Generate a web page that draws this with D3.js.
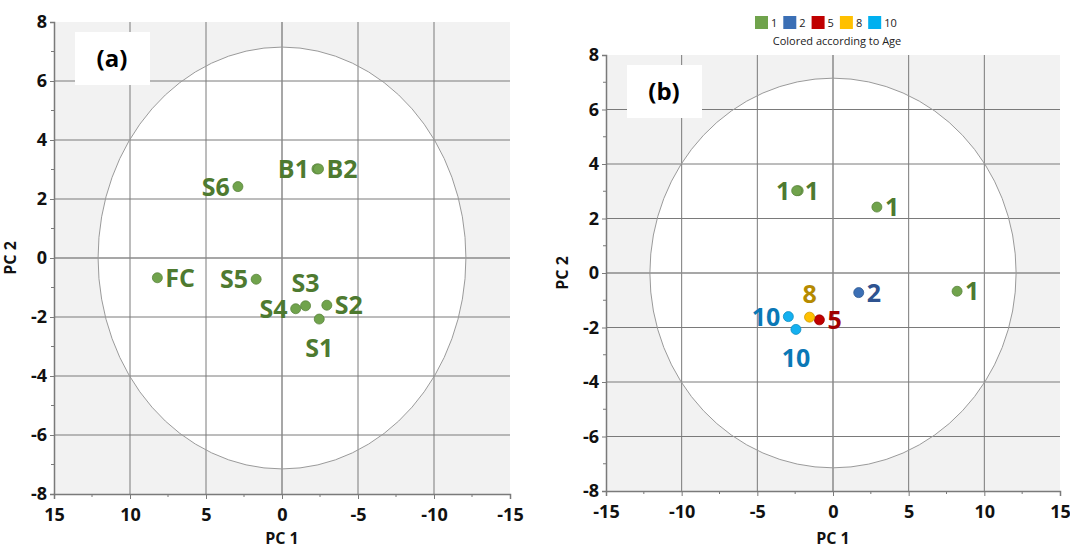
<!DOCTYPE html>
<html>
<head>
<meta charset="utf-8">
<script src="https://cdn.jsdelivr.net/npm/d3@7"></script>
<style>
  body { margin: 0; background: #fff; }
  svg { display: block; font-family: 'Open Sans', sans-serif; }
</style>
</head>
<body>
<div id="chart"></div>
<script>
// Scores of the samples on the first two components
const samples = ['FC', 'S5', 'S6', 'B1', 'B2', 'S4', 'S3', 'S2', 'S1'];
const pc1 = [8.2, 1.7, 2.9, -2.3, -2.4, -0.9, -1.55, -2.95, -2.45];
const pc2 = [-0.67, -0.72, 2.42, 3.02, 3.02, -1.72, -1.62, -1.6, -2.07];
const age = [1, 2, 1, 1, 1, 5, 8, 10, 10];

const ageLevels = [1, 2, 5, 8, 10];
const xTicks = [-15, -10, -5, 0, 5, 10, 15];
const yTicks = [-8, -6, -4, -2, 0, 2, 4, 6, 8];
const ellipseRadius = [12.1, 7.15]; // Hotelling T2 ellipse, PC1 / PC2 units

const width = 1070, height = 548;

const dotColor = {1: '#70a34c', 2: '#3b6fb5', 5: '#c00000', 8: '#ffc000', 10: '#14b0f0'};
const textColor = {1: '#4e7a30', 2: '#2f5390', 5: '#a00000', 8: '#b58a00', 10: '#0a78b6'};

// where the label sits relative to its dot
const sideA = {FC: 'right', S5: 'left', S6: 'left', B1: 'left', B2: 'right', S4: 'left', S3: 'top', S2: 'right', S1: 'bottom'};
const sideB = {FC: 'right', S5: 'right', S6: 'right', B1: 'left', B2: 'right', S4: 'right', S3: 'top', S2: 'left', S1: 'bottom'};

const data = samples.map((s, i) => ({name: s, pc1: pc1[i], pc2: pc2[i], age: age[i]}));

const svg = d3.select('#chart')
  .append('svg')
  .attr('width', width)
  .attr('height', height);

function panel(id, opts) {
  const x = d3.scaleLinear().domain(opts.xDomain).range(opts.xRange);
  const y = d3.scaleLinear().domain([-8, 8]).range(opts.yRange);
  const g = svg.append('g');

  const [x0, x1] = d3.extent(opts.xRange);
  const [y0, y1] = d3.extent(opts.yRange);

  g.append('rect')
    .attr('x', x0).attr('y', y0)
    .attr('width', x1 - x0).attr('height', y1 - y0)
    .attr('fill', '#f2f2f2');

  const rx = Math.abs(x(ellipseRadius[0]) - x(0));
  const ry = Math.abs(y(ellipseRadius[1]) - y(0));

  g.append('ellipse')
    .attr('cx', x(0)).attr('cy', y(0))
    .attr('rx', rx).attr('ry', ry)
    .attr('fill', '#fff');

  // grid
  g.append('g')
    .attr('stroke', '#dadada')
    .selectAll('line')
    .data(xTicks.filter(d => d !== 0 && Math.abs(d) !== 15))
    .join('line')
    .attr('x1', d => x(d)).attr('x2', d => x(d))
    .attr('y1', y0).attr('y2', y1);

  g.append('g')
    .attr('stroke', '#dadada')
    .selectAll('line')
    .data(yTicks.filter(d => d !== 0 && Math.abs(d) !== 8))
    .join('line')
    .attr('y1', d => y(d)).attr('y2', d => y(d))
    .attr('x1', x0).attr('x2', x1);

  // zero lines
  g.append('line')
    .attr('x1', x(0)).attr('x2', x(0)).attr('y1', y0).attr('y2', y1)
    .attr('stroke', '#8a8a8a').attr('stroke-width', 1.5);
  g.append('line')
    .attr('y1', y(0)).attr('y2', y(0)).attr('x1', x0).attr('x2', x1)
    .attr('stroke', '#8a8a8a').attr('stroke-width', 1.5);

  g.append('ellipse')
    .attr('cx', x(0)).attr('cy', y(0))
    .attr('rx', rx).attr('ry', ry)
    .attr('fill', 'none')
    .attr('stroke', '#9a9a9a');

  // axes
  const fmt = d => String(d);
  const xAxis = g.append('g')
    .attr('transform', `translate(0,${y1})`)
    .call(d3.axisBottom(x).tickValues(xTicks).tickFormat(fmt).tickSize(5).tickPadding(9));
  xAxis.append('g')
    .selectAll('line')
    .data(d3.range(-12.5, 15, 5))
    .join('line')
    .attr('x1', d => x(d)).attr('x2', d => x(d))
    .attr('y1', 0).attr('y2', 3);

  const yAxis = g.append('g')
    .attr('transform', `translate(${x0},0)`)
    .call(d3.axisLeft(y).tickValues(yTicks).tickFormat(fmt).tickSize(4).tickPadding(3));
  yAxis.append('g')
    .selectAll('line')
    .data(d3.range(-7, 8, 2))
    .join('line')
    .attr('y1', d => y(d)).attr('y2', d => y(d))
    .attr('x1', 0).attr('x2', -3);

  g.selectAll('.domain, .tick line').attr('stroke', '#7a7a7a').attr('stroke-width', 1.5);
  g.selectAll('g > g > line').attr('stroke', '#7a7a7a').attr('stroke-width', 1);
  g.selectAll('.tick text')
    .attr('fill', '#111')
    .style('font', "bold 18px 'Open Sans', sans-serif");

  // axis titles
  g.append('text')
    .attr('x', x(0)).attr('y', 544)
    .attr('text-anchor', 'middle')
    .style('font', "bold 16px 'Open Sans', sans-serif")
    .attr('fill', '#111')
    .text('PC 1');
  g.append('text')
    .attr('transform', `translate(${x0 - 38},${y(0)}) rotate(-90)`)
    .attr('text-anchor', 'middle')
    .style('font', "bold 16px 'Open Sans', sans-serif")
    .attr('fill', '#111')
    .text('PC 2');

  // panel tag
  g.append('rect')
    .attr('x', x0 + 21).attr('y', y0 + 10)
    .attr('width', 75).attr('height', 53)
    .attr('fill', '#fff');
  g.append('text')
    .attr('x', x0 + 58).attr('y', y0 + 37)
    .attr('dy', '0.35em')
    .attr('text-anchor', 'middle')
    .style('font', "bold 24px 'Open Sans', sans-serif")
    .attr('fill', '#000')
    .text(id);

  // points
  g.append('g')
    .selectAll('circle')
    .data(data)
    .join('circle')
    .attr('cx', d => x(d.pc1))
    .attr('cy', d => y(d.pc2))
    .attr('r', 5)
    .attr('fill', d => opts.dot(d))
    .attr('stroke', d => d3.color(opts.dot(d)).darker(0.6))
    .attr('stroke-width', 0.8);

  const off = {
    left: [-8, 0, 'end'],
    right: [8, 0, 'start'],
    top: [0, -23, 'middle'],
    bottom: [0, 29, 'middle']
  };

  g.append('g')
    .style('font', "bold 25px 'Open Sans', sans-serif")
    .selectAll('text')
    .data(data)
    .join('text')
    .attr('x', d => x(d.pc1) + off[opts.side[d.name]][0])
    .attr('y', d => y(d.pc2) + off[opts.side[d.name]][1])
    .attr('dy', '0.36em')
    .attr('text-anchor', d => off[opts.side[d.name]][2])
    .attr('fill', d => opts.label(d))
    .text(d => opts.text(d));
}

panel('(a)', {
  xDomain: [15, -15], xRange: [54, 510], yRange: [494, 22],
  side: sideA,
  dot: () => dotColor[1],
  label: () => textColor[1],
  text: d => d.name
});

panel('(b)', {
  xDomain: [-15, 15], xRange: [606, 1060], yRange: [491, 55],
  side: sideB,
  dot: d => dotColor[d.age],
  label: d => textColor[d.age],
  text: d => d.age
});

// legend
const legend = svg.append('g')
  .style('font', "11px 'Open Sans', sans-serif");
let lx = 755;
ageLevels.forEach(a => {
  legend.append('rect')
    .attr('x', lx).attr('y', 16)
    .attr('width', 13).attr('height', 13)
    .attr('fill', dotColor[a] === '#14b0f0' ? '#00b0f0' : dotColor[a]);
  const t = legend.append('text')
    .attr('x', lx + 16).attr('y', 27)
    .attr('fill', '#222')
    .text(a);
  lx += 16 + t.node().getComputedTextLength() + 6;
});
legend.append('text')
  .attr('x', 837).attr('y', 45)
  .attr('text-anchor', 'middle')
  .attr('fill', '#222')
  .text('Colored according to Age');
</script>
</body>
</html>
